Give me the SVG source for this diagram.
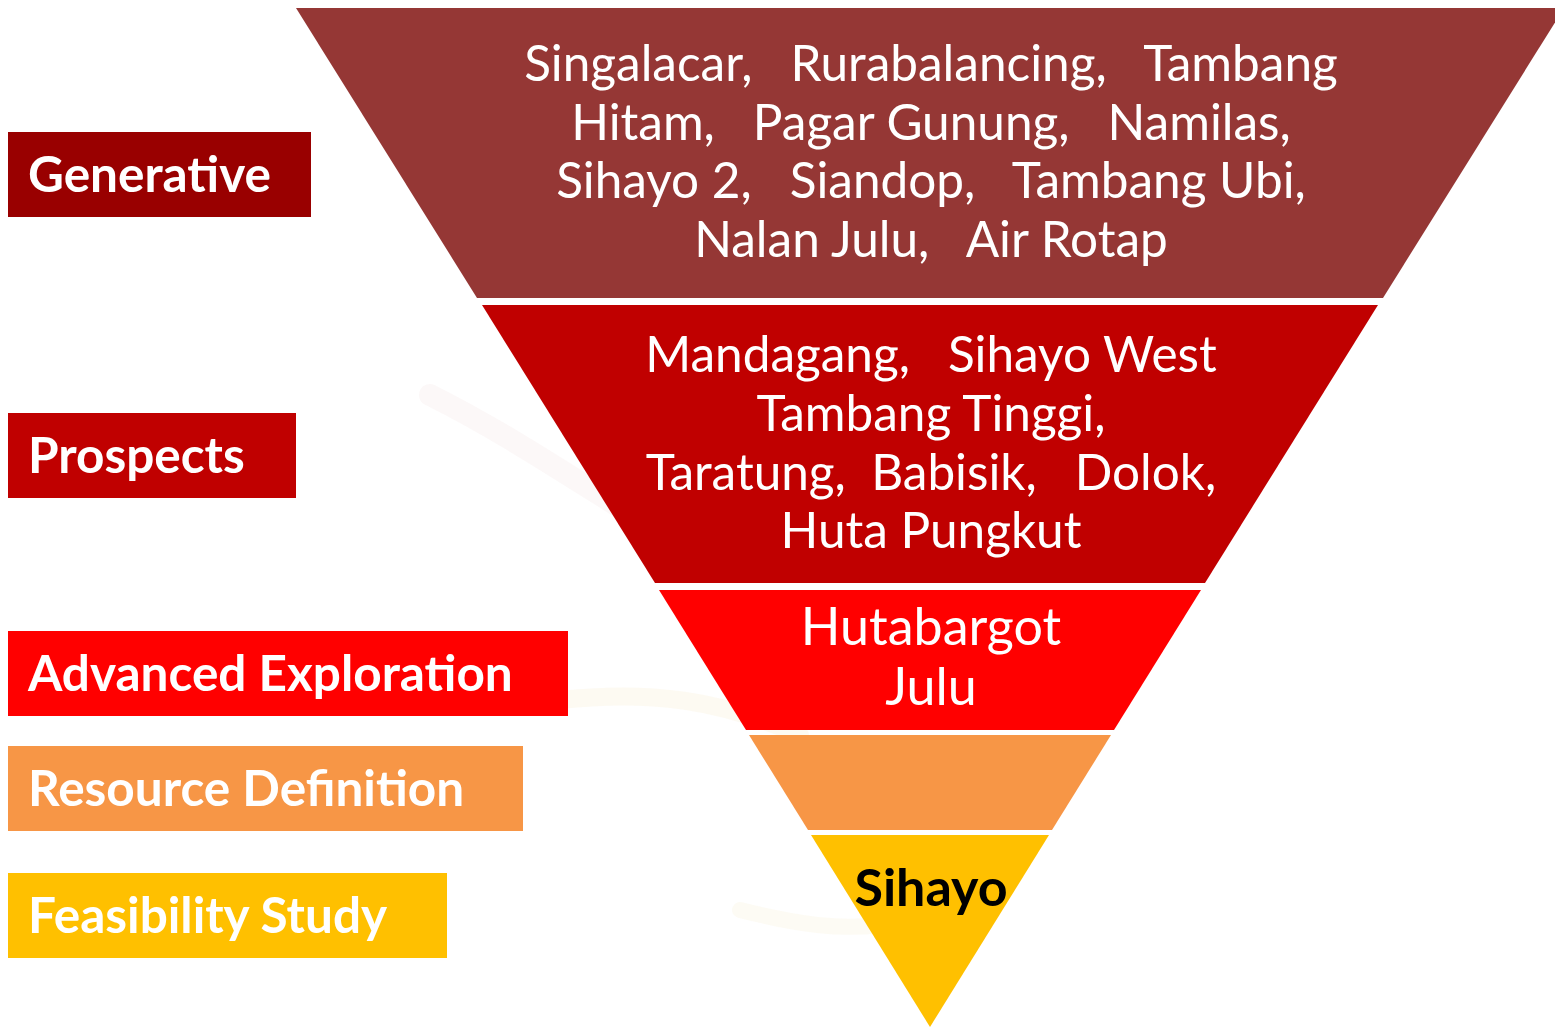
<svg xmlns="http://www.w3.org/2000/svg" width="1555" height="1027" viewBox="0 0 1555 1027">
<style>
.lbl{font-family:Lato,"Open Sans","Liberation Sans",sans-serif;font-weight:700;font-size:49.5px;fill:#fff}
.ft{font-family:Lato,"Open Sans","Liberation Sans",sans-serif;font-size:49.5px;fill:#fff;text-anchor:middle}
</style>
<rect width="1555" height="1027" fill="#fff"/>
<g id="watermark" fill="none" stroke-linecap="round">
<path d="M430 395 C500 430 560 470 640 520" stroke="#f0dede" stroke-width="22" opacity="0.2"/>
<path d="M560 700 C650 690 720 700 800 735" stroke="#f6eccc" stroke-width="18" opacity="0.25"/>
<path d="M740 910 C800 925 840 930 880 925" stroke="#f8f0d4" stroke-width="16" opacity="0.25"/>
</g>
<g id="funnel">
<g id="band-generative">
<polygon points="296,8 1564,8 1383,298 477,298" fill="#953735"/>
<text class="ft" xml:space="preserve" x="931" y="81">Singalacar,   Rurabalancing,   Tambang</text>
<text class="ft" xml:space="preserve" x="931" y="140">Hitam,   Pagar Gunung,   Namilas,</text>
<text class="ft" xml:space="preserve" x="931" y="198">Sihayo 2,   Siandop,   Tambang Ubi,</text>
<text class="ft" xml:space="preserve" x="931" y="257">Nalan Julu,   Air Rotap</text>
</g>
<g id="band-prospects">
<polygon points="482,305 1378,305 1205,583 655,583" fill="#C00000"/>
<text class="ft" xml:space="preserve" x="931" y="372">Mandagang,   Sihayo West</text>
<text class="ft" xml:space="preserve" x="931" y="431">Tambang Tinggi,</text>
<text class="ft" xml:space="preserve" x="931" y="490">Taratung,  Babisik,   Dolok,</text>
<text class="ft" xml:space="preserve" x="931" y="548">Huta Pungkut</text>
</g>
<g id="band-advanced">
<polygon points="659,590 1201,590 1114,730 746,730" fill="#FF0000"/>
<text class="ft" x="931" y="645" style="font-size:52px">Hutabargot</text>
<text class="ft" x="931" y="705" style="font-size:52px">Julu</text>
</g>
<g id="band-resource">
<polygon points="749,735 1111,735 1052,830 808,830" fill="#F79646"/>
</g>
<g id="band-feasibility">
<polygon points="811,835 1049,835 930,1027" fill="#FFC000"/>
<text x="931" y="906" text-anchor="middle" font-family="Lato,'Open Sans','Liberation Sans',sans-serif" font-weight="700" font-size="52" fill="#000">Sihayo</text>
</g>
</g>
<g id="label-generative">
<rect x="8" y="132" width="303" height="85" fill="#990000"/>
<text class="lbl" x="28" y="192">Generative</text>
</g>
<g id="label-prospects">
<rect x="8" y="413" width="288" height="85" fill="#C00000"/>
<text class="lbl" x="28" y="473">Prospects</text>
</g>
<g id="label-advanced">
<rect x="8" y="631" width="560" height="85" fill="#FF0000"/>
<text class="lbl" x="28" y="691">Advanced Exploration</text>
</g>
<g id="label-resource">
<rect x="8" y="746" width="515" height="85" fill="#F79646"/>
<text class="lbl" x="28" y="806">Resource Definition</text>
</g>
<g id="label-feasibility">
<rect x="8" y="873" width="439" height="85" fill="#FFC000"/>
<text class="lbl" x="28" y="933">Feasibility Study</text>
</g>
<g id="connectors"/>
</svg>
